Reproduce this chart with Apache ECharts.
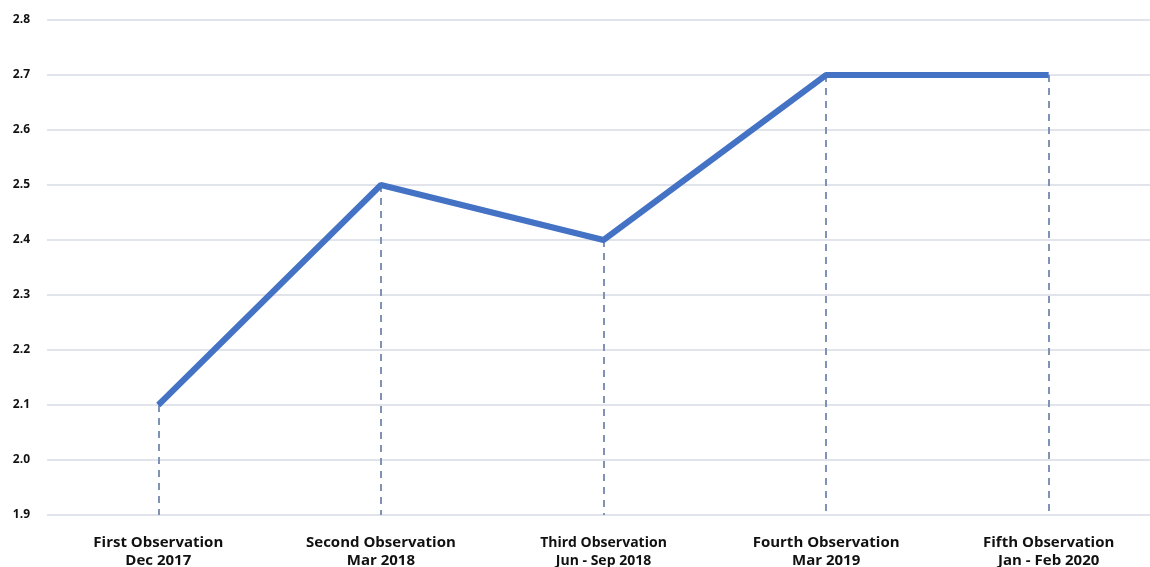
<!DOCTYPE html>
<html>
<head>
<meta charset="utf-8">
<script src="https://cdn.jsdelivr.net/npm/echarts@6/dist/echarts.min.js"></script>
<style>
  html, body { margin: 0; padding: 0; background: #fff; }
  #chart { width: 1150px; height: 567px; }
</style>
</head>
<body>
<div id="chart"></div>
<script>
// categories and values
var categories = [
  "First Observation\nDec 2017",
  "Second Observation\nMar 2018",
  "Third Observation\nJun - Sep 2018",
  "Fourth Observation\nMar 2019",
  "Fifth Observation\nJan - Feb 2020"
];
var values = [2.1, 2.5, 2.4, 2.7, 2.7];
var yMin = 1.9;
var yMax = 2.8;

var chart = echarts.init(document.getElementById("chart"));

// dashed drop lines from each point down to the axis floor
var dropLines = values.map(function (v, i) {
  return [{ coord: [i, v] }, { coord: [i, yMin] }];
});

var option = {
  backgroundColor: "#fff",
  animation: false,
  grid: {
    left: 47, top: 20, width: 1113, height: 495,
    containLabel: false, outerBoundsMode: "none"
  },
  xAxis: {
    type: "category",
    data: categories,
    boundaryGap: true,
    axisLine: { show: false },
    axisTick: { show: false },
    axisLabel: {
      interval: 0,
      margin: 19,
      color: "#111",
      fontFamily: "Open Sans",
      fontWeight: "bold",
      fontSize: 15,
      lineHeight: 18,
      // the third label is set a little smaller in the original
      formatter: function (v, i) {
        if (i === 2) {
          return v.split("\n").map(function (s) { return "{s|" + s + "}"; }).join("\n");
        }
        return v;
      },
      rich: {
        s: { fontSize: 14, fontWeight: "bold", fontFamily: "Open Sans", color: "#111", lineHeight: 18 }
      }
    }
  },
  yAxis: {
    type: "value",
    min: yMin,
    max: yMax,
    interval: 0.1,
    axisLine: { show: false },
    axisTick: { show: false },
    axisLabel: {
      margin: 17,
      color: "#111",
      fontFamily: "Open Sans",
      fontWeight: "bold",
      fontSize: 12,
      formatter: function (v) { return v.toFixed(1); }
    },
    splitLine: { lineStyle: { color: "#e1e4ea", width: 2 } }
  },
  series: [
    {
      type: "line",
      data: values,
      symbol: "none",
      lineStyle: { color: "#4472c4", width: 6 },
      z: 3,
      markLine: {
        silent: true,
        symbol: "none",
        label: { show: false },
        lineStyle: { color: "#8093b5", width: 2, type: [7, 6] },
        data: dropLines,
        z: 2
      }
    }
  ]
};
chart.setOption(option);
</script>
</body>
</html>
